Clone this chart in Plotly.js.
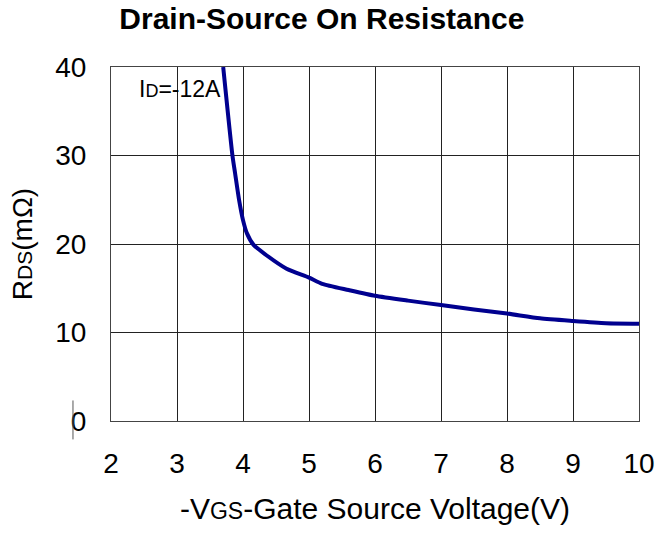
<!DOCTYPE html>
<html>
<head>
<meta charset="utf-8">
<script src="https://cdn.plot.ly/plotly-3.0.1.min.js"></script>
<style>html,body{margin:0;padding:0;background:#fff;}#chart{width:672px;height:535px;}</style>
</head>
<body>
<div id="chart"></div>
<script>
const vgs = [3.70, 3.84, 3.88, 3.94, 4.00, 4.06, 4.16, 4.36, 4.66, 5.00, 5.20, 5.60, 6.00, 6.50, 7.00, 7.50, 8.00, 8.50, 9.00, 9.50, 10.00];
const rds = [40.0, 30.0, 28.0, 25.0, 22.7, 21.2, 19.9, 18.7, 17.2, 16.2, 15.5, 14.8, 14.15, 13.6, 13.1, 12.6, 12.15, 11.6, 11.3, 11.05, 11.0];
const xTicks = [2, 3, 4, 5, 6, 7, 8, 9, 10];
const yTicks = [0, 10, 20, 30, 40];
const yTickText = ['0', '10', '20', '30', '40'];

const font = 'Liberation Sans, Arial, sans-serif';

const trace = {
  x: vgs, y: rds, type: 'scatter', mode: 'lines',
  line: {color: '#00008f', width: 4, shape: 'spline', smoothing: 0.6},
  hoverinfo: 'skip', cliponaxis: true
};

const layout = {
  width: 672, height: 535,
  margin: {l: 111, r: 33, t: 67, b: 114},
  paper_bgcolor: '#fff', plot_bgcolor: '#fff',
  showlegend: false,
  font: {family: font, color: '#000'},
  title: {
    text: '<b>Drain-Source On Resistance</b>',
    font: {family: font, size: 30, color: '#000'},
    xref: 'container', x: 0.479, xanchor: 'center',
    yref: 'container', y: 0.966, yanchor: 'middle'
  },
  xaxis: {
    range: [2, 10], tickvals: xTicks, ticktext: xTicks.map(String),
    showgrid: true, gridcolor: '#222', gridwidth: 1,
    showline: true, linecolor: '#444', linewidth: 1, mirror: true,
    zeroline: false, ticks: '', ticklabelstandoff: 17,
    tickfont: {family: font, size: 28, color: '#000'},
    title: {text: '-V<span style="font-size:23px">GS</span>-Gate Source Voltage(V)',
            font: {family: font, size: 30, color: '#000'}, standoff: 20}
  },
  yaxis: {
    range: [0, 40], tickvals: yTicks, ticktext: yTickText,
    showgrid: true, gridcolor: '#222', gridwidth: 1,
    showline: true, linecolor: '#444', linewidth: 1, mirror: true,
    zeroline: false, ticks: '', ticklabelstandoff: 18,
    tickfont: {family: font, size: 28, color: '#000'},
    title: {text: 'R<span style="font-size:21px">DS</span>(mΩ)',
            font: {family: font, size: 28, color: '#000'}, standoff: 14}
  },
  annotations: [{
    text: 'I<span style="font-size:18px">D</span>=-12A',
    xref: 'paper', yref: 'paper', x: 0.05, y: 0.938, xanchor: 'left', yanchor: 'middle',
    showarrow: false, font: {family: font, size: 23, color: '#000'}
  }],
  shapes: [{
    type: 'line', xref: 'paper', yref: 'paper',
    x0: -0.072, x1: -0.072, y0: 0.058, y1: -0.052,
    line: {color: '#555', width: 1}
  }]
};

Plotly.newPlot('chart', [trace], layout, {staticPlot: true, displayModeBar: false});
</script>
</body>
</html>
